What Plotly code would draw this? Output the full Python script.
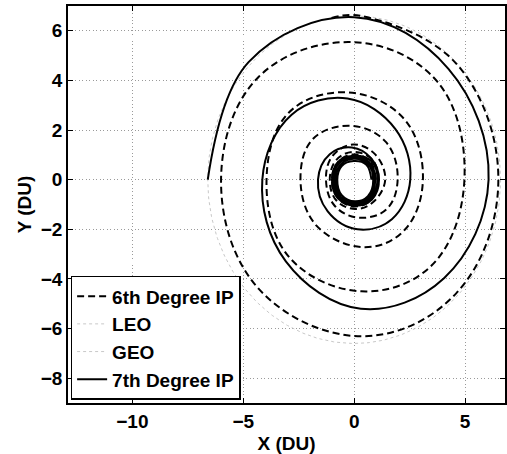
import numpy as np
import plotly.graph_objects as go

# ---- data (DU) ----
# 7th degree inverse-polynomial transfer (solid), counter-clockwise outward, 45 deg steps
ip7_x = [0.78, 0.55, -0.02, -0.56, -0.76, -0.56, 0.04, 0.62,
         0.86, 0.62, -0.02, -0.62, -0.85, -0.62, 0.05, 0.68,
         0.95, 0.68, -0.03, -0.68, -0.93, -0.68, 0.06, 0.74,
         1.05, 0.78, -0.04, -0.74, -1.0, -0.72, 0.08, 0.8,
         1.12, 0.78, -0.1, -1.1, -1.63, -1.2, 0.15, 1.7,
         2.53, 1.86, -0.3, -2.82, -4.14, -3.08, 0.3, 4.05,
         6.06, 4.25, 0.0, -4.75, -6.6]
ip7_y = [0.0, 0.6, 0.75, 0.55, 0.0, -0.62, -0.87, -0.66,
         0.0, 0.64, 0.84, 0.6, 0.0, -0.68, -0.94, -0.7,
         0.0, 0.7, 0.9, 0.66, 0.0, -0.72, -0.99, -0.74,
         0.0, 0.74, 0.96, 0.7, 0.0, -0.76, -1.05, -0.8,
         0.0, 0.85, 1.3, 1.03, 0.0, -1.27, -2.0, -1.59,
         0.0, 2.04, 3.27, 2.62, 0.0, -3.29, -5.2, -3.97,
         0.0, 4.47, 6.55, 4.75, 0.0]

# 6th degree inverse-polynomial transfer (dashed), 45 deg steps
ip6_x = [0.98, 0.72, -0.02, -0.72, -1.0, -0.72, 0.05, 0.78,
         1.1, 0.8, -0.03, -0.8, -1.1, -0.8, 0.06, 0.86,
         1.4, 0.95, -0.05, -0.98, -1.27, -0.88, 0.2, 1.45,
         1.96, 1.45, -0.1, -1.85, -2.42, -1.7, 0.45, 2.25,
         3.1, 2.25, -0.3, -2.95, -3.95, -2.95, 0.33, 3.5,
         4.97, 3.75, 0.0, -4.3, -6.0, -4.3, 0.33, 4.6,
         6.5, 4.6, 0.3, -1.1]
ip6_y = [0.0, 0.74, 1.02, 0.72, 0.0, -0.76, -1.08, -0.8,
         0.0, 0.82, 1.12, 0.8, 0.0, -0.84, -1.18, -0.9,
         0.0, 1.02, 1.42, 0.95, 0.0, -1.05, -1.53, -1.2,
         0.0, 1.5, 2.17, 1.65, 0.0, -1.85, -2.72, -2.05,
         0.0, 2.45, 3.52, 2.7, 0.0, -3.1, -4.5, -3.45,
         0.0, 3.95, 5.54, 4.15, 0.0, -4.4, -6.31, -4.58,
         0.0, 4.68, 6.6, 6.5]

leo_radius = 1.0
geo_radius = 6.6

x_ticks = [-10, -5, 0, 5]
y_ticks = [-8, -6, -4, -2, 0, 2, 4, 6]
x_range = [-12.9, 6.8]
y_range = [-9, 7]

FONT = dict(family="Liberation Sans, Arial, sans-serif", size=19, color="black", weight="bold")
ORBIT = dict(color="#c8c8c8", width=1, dash="dot")

# circular reference orbits, drawn from their radii
theta = np.linspace(0, 2 * np.pi, 361)

fig = go.Figure()
fig.add_trace(go.Scatter(
    x=leo_radius * np.cos(theta), y=leo_radius * np.sin(theta), mode="lines",
    name="LEO", legendrank=2, line=ORBIT))
fig.add_trace(go.Scatter(
    x=geo_radius * np.cos(theta), y=geo_radius * np.sin(theta), mode="lines",
    name="GEO", legendrank=3, line=ORBIT))
fig.add_trace(go.Scatter(
    x=ip6_x, y=ip6_y, mode="lines", name="6th Degree IP", legendrank=1,
    line=dict(color="black", width=2, dash="7px,4px", shape="spline", smoothing=1.1)))
fig.add_trace(go.Scatter(
    x=ip7_x, y=ip7_y, mode="lines", name="7th Degree IP", legendrank=4,
    line=dict(color="black", width=2, shape="spline", smoothing=1.1)))

axis_common = dict(
    showline=True, linecolor="black", linewidth=1.5, mirror="ticks",
    ticks="inside", ticklen=5, tickwidth=1, tickcolor="black",
    showgrid=True, gridcolor="#9a9a9a", gridwidth=1, griddash="1px,2.5px",
    zeroline=False, tickfont=FONT)

fig.update_xaxes(range=x_range, tickvals=x_ticks, title=dict(text="X (DU)", font=FONT, standoff=6),
                 **axis_common)
fig.update_yaxes(range=y_range, tickvals=y_ticks, title=dict(text="Y (DU)", font=FONT, standoff=4),
                 **axis_common)

fig.update_layout(
    width=507, height=454,
    margin=dict(l=68, r=0, t=6, b=51),
    paper_bgcolor="white", plot_bgcolor="white",
    font=FONT,
    showlegend=True,
    legend=dict(x=0.006, y=0.008, xanchor="left", yanchor="bottom",
                bgcolor="white", bordercolor="black", borderwidth=1.5,
                font=FONT, itemwidth=30),
)

fig.write_html("out.html")
